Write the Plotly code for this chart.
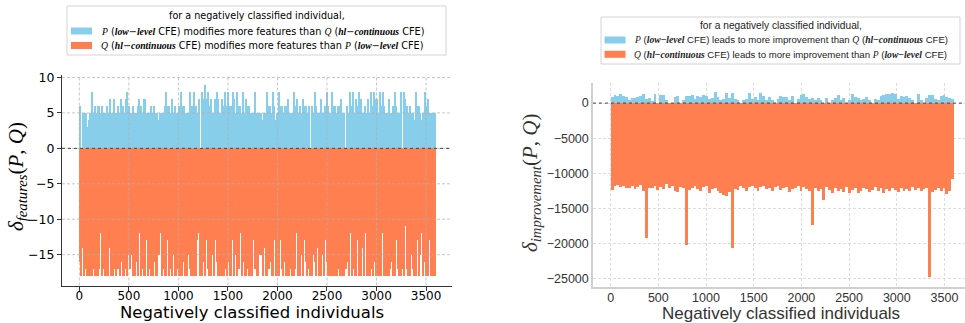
import plotly.graph_objects as go

# ---------------- data ----------------
# left chart: delta_features, 15 individuals per bar
feat_bin = 15
feat_pos = [6,0, 5,5, 5,3, 4,5, 8,5, 6,5, 6,6, 5,6, 5,5, 6,5,
            7,5, 5,7, 5,5, 6,5, 7,6, 5,7, 8,6, 5,5, 6,5, 5,6,
            7,6, 5,7, 7,5, 5,5, 6,5, 6,5, 5,4, 5,5, 5,6, 8,6,
            6,5, 7,5, 6,5, 5,6, 8,6, 6,5, 5,5, 8,6, 6,8, 6,5,
            7,0, 8,7, 9,7, 8,6, 7,5, 5,7, 8,7, 5,5, 7,6, 8,6,
            8,6, 6,8, 7,5, 8,6, 6,5, 8,5, 7,6, 6,5, 5,5, 8,5,
            5,5, 5,4, 5,5, 8,6, 6,5, 8,6, 4,5, 8,6, 6,5, 6,6,
            7,5, 5,5, 8,6, 7,5, 6,5, 7,6, 6,5, 6,0, 6,5, 8,6,
            5,5, 7,5, 5,6, 8,6, 5,5, 8,6, 6,5, 6,6, 7,5, 5,0,
            6,5, 8,6, 8,5, 7,6, 8,7, 5,5, 6,5, 7,5, 8,6, 8,7,
            7,5, 8,6, 8,6, 5,5, 7,5, 5,6, 8,6, 5,5, 8,0, 8,7,
            6,5, 6,5, 5,4, 8,6, 6,5, 4,5, 8,6, 7,5, 5,5, 5,5]
feat_neg = [-16,-18, -14,-18, -17,-18, -18,-18, -18,-17, -18,-18, -18,-17, -12,-18, -17,-18, -18,-18,
            -14,-18, -18,-17, -18,-15, -17,-18, -16,-18, -18,-17, -18,-15, -17,-15, -18,-18, -16,-18,
            -12,-18, -17,-18, -18,-13, -18,-17, -18,-18, -16,-18, -18,-15, -12,-18, -17,-18, -18,-13,
            -18,-17, -18,-15, -18,-18, -17,-18, -18,-18, -16,-18, -18,-15, -17,-18, -18,-18, -18,-13,
            -12,-18, -18,-16, -18,-13, -17,-18, -18,-15, -18,-13, -16,-18, -18,-13, -18,-18, -17,-18,
            -16,-18, -18,-13, -18,-15, -18,-17, -12,-18, -16,-18, -18,-17, -18,-18, -18,-13, -17,-18,
            -18,-15, -15,-18, -14,-18, -18,-17, -16,-18, -18,-13, -18,-18, -18,-13, -17,-18, -16,-18,
            -18,-18, -17,-18, -18,-17, -12,-18, -18,-15, -18,-13, -16,-18, -17,-18, -18,-15, -16,-18,
            -14,-18, -18,-15, -18,-13, -16,-18, -18,-18, -18,-18, -18,-18, -17,-18, -18,-18, -18,-17,
            -16,-18, -12,-18, -17,-18, -18,-13, -18,-18, -14,-18, -12,-18, -18,-18, -17,-18, -16,-18,
            -18,-18, -14,-18, -12,-18, -18,-18, -18,-17, -16,-18, -18,-13, -17,-18, -18,-17, -18,-11,
            -17,-18, -18,-15, -17,-18, -18,-13, -18,-15, -12,-18, -16,-18, -18,-13, -18,-18, -18,-18]
# right chart: delta_improvement, 30 individuals per bar
impr_bin = 30
impr_pos = [800,1050,900,1200,950,800,330,700,700,760,
            900,1200,480,700,240,1300,0,1150,1050,330,
            0,0,800,900,0,330,900,900,1150,480,
            900,800,1150,900,570,700,1500,800,330,570,
            1400,700,1350,570,330,0,330,570,1400,570,
            800,330,1400,900,330,800,330,0,570,900,
            800,800,330,900,0,570,1050,1200,800,570,
            700,330,650,330,0,700,0,330,700,1050,
            330,700,0,330,1200,800,700,330,570,800,
            330,0,570,330,900,1150,1300,1300,1400,1300,
            570,900,800,900,650,330,0,1200,330,0,
            700,1150,1050,570,330,900,1050,800,700,600]
impr_neg = [-12400,-11900,-11700,-12000,-11800,-12100,-12200,-11900,-12300,-12000,
            -11700,-12600,-19200,-12200,-12100,-11800,-12400,-12000,-12300,-11600,
            -12200,-11900,-12500,-12700,-12000,-12200,-20200,-12400,-12100,-11900,
            -12300,-12600,-12000,-11800,-12900,-12300,-12200,-12600,-12900,-13200,
            -13300,-12700,-20700,-12300,-12400,-11900,-12100,-12600,-12000,-11800,
            -12200,-12500,-12000,-11900,-12300,-12100,-12600,-12000,-11800,-12400,
            -12200,-12000,-12700,-12300,-12100,-11800,-12500,-12000,-12300,-12600,
            -17450,-12200,-12600,-12300,-13900,-12000,-12400,-12800,-12100,-12500,
            -12300,-12700,-12000,-12900,-12400,-12200,-12800,-12500,-12100,-12300,
            -12700,-12400,-12000,-12600,-12200,-12900,-12300,-12500,-12100,-12400,
            -12700,-12200,-12500,-12300,-12600,-12000,-12400,-12200,-12500,-12300,
            -12100,-24800,-12700,-12400,-12200,-12500,-12100,-13000,-12600,-10800]

x_ticks = [0, 500, 1000, 1500, 2000, 2500, 3000, 3500]
y_ticks_left = [-15, -10, -5, 0, 5, 10]
y_ticks_right = [-25000, -20000, -15000, -10000, -5000, 0]

legend_title = "for a negatively classified individual,"
left_verb = " modifies more features than "
right_verb = " leads to more improvement than "

def centers(n, w):
    return [w * i + w / 2 for i in range(n)]

BLUE = "#87CEEB"
ORANGE = "#FF7F50"
SERIF = "Liberation Serif"

def s(t):
    return f"<span style='font-family:{SERIF}'>{t}</span>"

P_lab = s("<i>P</i>") + " (" + s("<b><i>low</i></b>") + "−" + s("<b><i>level</i></b>") + " CFE)"
Q_lab = s("<i>Q</i>") + " (" + s("<b><i>hl</i></b>") + "−" + s("<b><i>continuous</i></b>") + " CFE)"

labels_left = [P_lab + left_verb + Q_lab, Q_lab + left_verb + P_lab]
labels_right = [P_lab + right_verb + Q_lab, Q_lab + right_verb + P_lab]

fig = go.Figure()
fig.add_trace(go.Bar(x=centers(len(feat_pos), feat_bin), y=feat_pos, width=feat_bin,
                     marker=dict(color=BLUE, line=dict(width=0)), name=labels_left[0],
                     showlegend=False, xaxis="x", yaxis="y"))
fig.add_trace(go.Bar(x=centers(len(feat_neg), feat_bin), y=feat_neg, width=feat_bin,
                     marker=dict(color=ORANGE, line=dict(width=0)), name=labels_left[1],
                     showlegend=False, xaxis="x", yaxis="y"))
fig.add_trace(go.Bar(x=centers(len(impr_pos), impr_bin), y=impr_pos, width=impr_bin,
                     marker=dict(color=BLUE, line=dict(width=0)), name=labels_right[0],
                     showlegend=False, xaxis="x2", yaxis="y2"))
fig.add_trace(go.Bar(x=centers(len(impr_neg), impr_bin), y=impr_neg, width=impr_bin,
                     marker=dict(color=ORANGE, line=dict(width=0)), name=labels_right[1],
                     showlegend=False, xaxis="x2", yaxis="y2"))

W, H = 965, 323
def px_x(p): return p / W
def px_y(p): return 1 - p / H

GRID_DASH = "3px,2px"

fig.update_layout(
    width=W, height=H, margin=dict(l=0, r=0, t=0, b=0, autoexpand=False),
    paper_bgcolor="white", plot_bgcolor="white",
    barmode="overlay", bargap=0, showlegend=False,
    font=dict(family="DejaVu Sans", color="black"),
    xaxis=dict(domain=[px_x(62), px_x(452)], range=[-175, 3762],
               tickvals=x_ticks, ticks="outside", ticklen=4, tickcolor="#333",
               ticklabelstandoff=-5,
               showline=True, linecolor="#333", linewidth=1.3, showgrid=False,
               zeroline=False, tickfont=dict(size=12, family="DejaVu Sans", color="black"),
               anchor="y"),
    yaxis=dict(domain=[px_y(285.5), px_y(75)], range=[-19.35, 10.35],
               tickvals=y_ticks_left, ticks="outside", ticklen=4, tickcolor="#333",
               showline=True, linecolor="#333", linewidth=1.3, showgrid=False,
               zeroline=False, tickfont=dict(size=12.5, family="DejaVu Sans", color="black"),
               anchor="x"),
    xaxis2=dict(domain=[px_x(593), 1.0], range=[-185, 3715],
                tickvals=x_ticks, ticks="", showline=True, linecolor="#d0d0d0", linewidth=1.5,
                ticklabelstandoff=-2,
                showgrid=True, gridcolor="#dddddd", griddash=GRID_DASH, gridwidth=1,
                zeroline=False, tickfont=dict(size=12.5, family="Liberation Sans", color="#333"),
                anchor="y2"),
    yaxis2=dict(domain=[px_y(287.2), px_y(83.3)], range=[-26220, 2820],
                tickvals=y_ticks_right, tickformat="d", ticks="", showline=True,
                linecolor="#d0d0d0", linewidth=1.5,
                showgrid=True, gridcolor="#dddddd", griddash=GRID_DASH, gridwidth=1,
                zeroline=False, tickfont=dict(size=12.5, family="Liberation Sans", color="#333"),
                anchor="x2"),
)

shapes = []
# left chart grid drawn over the bars
GRID_LEFT = "rgba(175,175,175,0.7)"
for xv in x_ticks:
    shapes.append(dict(type="line", xref="x", yref="y domain", x0=xv, x1=xv, y0=0, y1=1,
                       line=dict(color=GRID_LEFT, width=1, dash=GRID_DASH), layer="above"))
for yv in y_ticks_left:
    shapes.append(dict(type="line", xref="x domain", yref="y", x0=0, x1=1, y0=yv, y1=yv,
                       line=dict(color=GRID_LEFT, width=1, dash=GRID_DASH), layer="above"))
# zero reference lines
shapes.append(dict(type="line", xref="x domain", yref="y", x0=0, x1=1, y0=0, y1=0,
                   line=dict(color="#444", width=1, dash="dot"), layer="above"))
shapes.append(dict(type="line", xref="x2 domain", yref="y2", x0=0, x1=1, y0=0, y1=0,
                   line=dict(color="#444", width=1, dash="dot"), layer="above"))

annotations = []

def add_legend(box, title_xy, rows, patch_x, text_x, labels, colors, tfont, efont, tsize, esize, tcolor):
    x0, y0, x1, y1 = box
    shapes.append(dict(type="rect", xref="paper", yref="paper",
                       x0=px_x(x0), x1=px_x(x1), y0=px_y(y1), y1=px_y(y0),
                       line=dict(color="#d3d3d3", width=1), fillcolor="white", layer="above"))
    annotations.append(dict(text=legend_title, xref="paper", yref="paper",
                            x=px_x(title_xy[0]), y=px_y(title_xy[1]), xanchor="center", yanchor="middle",
                            showarrow=False, font=dict(family=tfont, size=tsize, color=tcolor)))
    for ry, lab, col in zip(rows, labels, colors):
        shapes.append(dict(type="rect", xref="paper", yref="paper",
                           x0=px_x(patch_x[0]), x1=px_x(patch_x[1]),
                           y0=px_y(ry + 3.5), y1=px_y(ry - 3.5),
                           line=dict(width=0), fillcolor=col, layer="above"))
        annotations.append(dict(text=lab, xref="paper", yref="paper",
                                x=px_x(text_x), y=px_y(ry), xanchor="left", yanchor="middle",
                                showarrow=False, font=dict(family=efont, size=esize, color=tcolor)))

add_legend((67, 6, 446, 55), (256.7, 15.5), (31, 45.5), (71, 92), 98.5,
           labels_left, [BLUE, ORANGE], "DejaVu Sans", "DejaVu Sans", 9.6, 9.7, "black")
add_legend((601, 17, 960, 64), (780.8, 25), (40, 54.3), (604.5, 625.5), 632,
           labels_right, [BLUE, ORANGE], "Liberation Sans", "Liberation Sans", 10.2, 9.6, "#222")

annotations += [
    dict(text="<i>δ</i><sub><i>features</i></sub>(<i>P</i>, <i>Q</i>)", xref="paper", yref="paper",
         x=px_x(17), y=px_y(177), xanchor="center", yanchor="middle", textangle=-90, showarrow=False,
         font=dict(family=SERIF, size=21, color="black")),
    dict(text="<i>δ</i><sub><i>improvement</i></sub>(<i>P</i>, <i>Q</i>)", xref="paper", yref="paper",
         x=px_x(531), y=px_y(183), xanchor="center", yanchor="middle", textangle=-90, showarrow=False,
         font=dict(family=SERIF, size=21, color="#333")),
    dict(text="Negatively classified individuals", xref="paper", yref="paper",
         x=px_x(252), y=px_y(312.5), xanchor="center", yanchor="middle", showarrow=False,
         font=dict(family="DejaVu Sans", size=16.5, color="black")),
    dict(text="Negatively classified individuals", xref="paper", yref="paper",
         x=px_x(781), y=px_y(313), xanchor="center", yanchor="middle", showarrow=False,
         font=dict(family="Liberation Sans", size=17, color="#333")),
]
fig.update_layout(shapes=shapes, annotations=annotations)

fig.write_html("out.html")
